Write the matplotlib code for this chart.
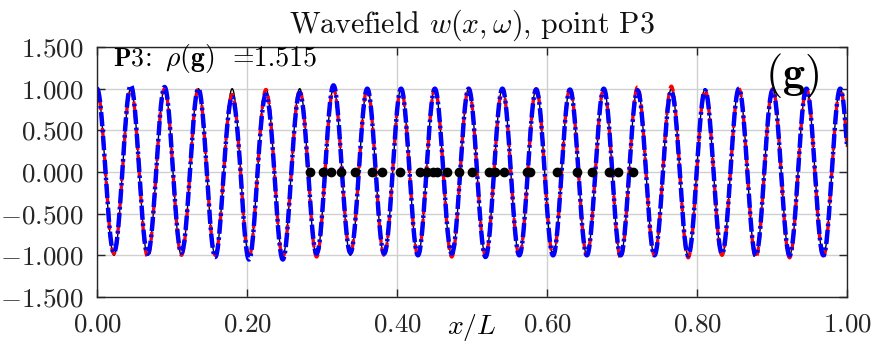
import matplotlib
matplotlib.use('Agg')
import matplotlib.pyplot as plt
import numpy as np
from matplotlib.ticker import FuncFormatter, MultipleLocator

plt.rcParams['font.family'] = 'cmr10'
plt.rcParams['mathtext.fontset'] = 'cm'
plt.rcParams['axes.formatter.use_mathtext'] = True

# wave: cycles per unit length and lobe amplitudes
cycles = 22.2
black_peaks = [1.0] * 23
black_troughs = [1.0] * 22
red_peaks = [1.0, 1.0, 1.0, 1.0, 0.93, 0.99, 0.98, 1.0, 1.0, 1.0, 1.0, 1.0,
             1.0, 1.0, 1.0, 1.0, 1.02, 1.03, 0.98, 1.0, 1.0, 1.0, 1.0]
red_troughs = [0.98, 1.02, 1.0, 1.0, 1.02, 1.02, 1.02, 0.97, 1.0, 1.0, 1.02,
               1.0, 1.0, 1.0, 1.0, 1.03, 1.0, 1.03, 1.0, 1.03, 1.03, 1.02]
blue_peaks = [1.0, 1.04, 1.02, 1.0, 0.9, 0.93, 0.95, 1.04, 1.0, 1.0, 1.0, 1.0,
              1.0, 0.99, 0.99, 1.0, 0.98, 0.97, 0.98, 1.0, 0.98, 1.0, 1.0]
blue_troughs = [0.97, 0.98, 0.97, 1.02, 1.05, 1.05, 0.98, 0.97, 0.98, 1.0,
                0.98, 1.02, 1.0, 1.0, 1.0, 1.0, 1.0, 1.0, 0.98, 1.0, 1.0, 1.0]

# points sitting on zero
dots_x = [0.284, 0.301, 0.312, 0.325, 0.344, 0.367, 0.380, 0.404, 0.431,
          0.440, 0.448, 0.453, 0.466, 0.482, 0.500, 0.522, 0.531, 0.542,
          0.573, 0.577, 0.613, 0.640, 0.660, 0.683, 0.695, 0.714]
dots_y = [0.0] * len(dots_x)

rho_g = 1.515


def wave(x, peaks, troughs):
    amp = []
    for p, t in zip(peaks, troughs + [0]):
        amp += [p, t]
    amp = np.array(amp[:len(peaks) + len(troughs)])
    lobe = np.clip(np.round(x * 2 * cycles).astype(int), 0, len(amp) - 1)
    return amp[lobe] * np.cos(2 * np.pi * cycles * x)


x = np.linspace(0, 1, 3000)

fig = plt.figure(figsize=(8.72, 3.47), dpi=100)
ax = fig.add_axes([97 / 872, 50 / 347, 750 / 872, 250 / 347])

ax.plot(x, wave(x, black_peaks, black_troughs), color='black', lw=1.0)
ax.plot(x, wave(x, red_peaks, red_troughs), color='red', lw=2.4,
        dashes=(2.6, 1.4))
ax.plot(x, wave(x, blue_peaks, blue_troughs), color='blue', lw=3.2,
        dashes=(3.2, 0.8, 0.6, 0.8))
ax.plot(dots_x, dots_y, 'o', color='black', ms=6, zorder=5)

ax.set_xlim(0, 1)
ax.set_ylim(-1.5, 1.5)
ax.xaxis.set_major_locator(MultipleLocator(0.2))
ax.yaxis.set_major_locator(MultipleLocator(0.5))
ax.xaxis.set_major_formatter(FuncFormatter(lambda v, p: '$%.2f$' % v))
ax.yaxis.set_major_formatter(FuncFormatter(lambda v, p: '$%.3f$' % v))

ax.grid(True, color='#d0d0d0', lw=1.0)
ax.set_axisbelow(True)
for s in ax.spines.values():
    s.set_color('#262626')
    s.set_linewidth(1.0)
ax.tick_params(direction='in', length=5.5, width=1.0, color='#262626',
               top=True, right=True, labelsize=19.5, labelcolor='#262626')
ax.tick_params(axis='y', pad=10)
ax.tick_params(axis='x', pad=11)

ax.set_title(r'Wavefield $w(x,\omega)$, point P3', fontsize=21.5, pad=10,
             color='#111111')
ax.set_xlabel(r'$x/L$', fontsize=20)
ax.xaxis.set_label_coords(0.5, -0.06)

# annotation built from pieces so the spacing follows the reference
base = 0.924
ax.text(0.021, base, r'$\mathbf{P3}$', transform=ax.transAxes,
        ha='left', va='baseline', fontsize=18.5)
ax.text(0.063, base, ':', transform=ax.transAxes,
        ha='left', va='baseline', fontsize=20)
ax.text(0.090, base, r'$\rho(\mathbf{g})$', transform=ax.transAxes,
        ha='left', va='baseline', fontsize=20)
ax.text(0.181, base, '=%.3f' % rho_g, transform=ax.transAxes,
        ha='left', va='baseline', fontsize=20)
ax.text(0.927, 0.98, r'$\mathbf{(g)}$', transform=ax.transAxes,
        ha='center', va='top', fontsize=32)

fig.savefig('out.png', dpi=100)
